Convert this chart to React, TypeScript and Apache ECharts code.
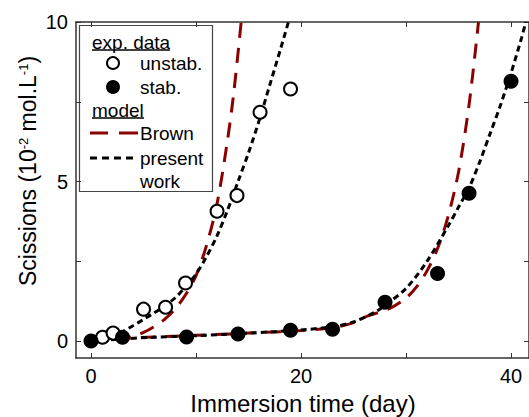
import React, { useEffect, useRef } from "react";
import * as echarts from "echarts";

const unstabX = [1.1, 2.1, 5.0, 7.1, 9.0, 12.0, 13.9, 16.1, 19.0];
const unstabY = [0.12, 0.25, 1.0, 1.06, 1.82, 4.07, 4.56, 7.17, 7.9];
const stabX = [0, 3.0, 9.1, 14.0, 19.0, 23.0, 28.0, 33.0, 36.0, 40.0];
const stabY = [0, 0.12, 0.13, 0.22, 0.34, 0.37, 1.22, 2.12, 4.63, 8.14];

const brownUnstabX = [0, 2, 3, 4, 5, 6, 7, 8, 9, 10, 11, 12, 13, 13.6, 14.3];
const brownUnstabY = [0, 0.04, 0.08, 0.15, 0.27, 0.45, 0.68, 1.0, 1.45, 2.05, 3.0, 4.3, 6.3, 7.8, 10];
const presentUnstabX = [0, 1, 2, 3, 4, 5, 6, 7, 8, 9, 10, 11, 12, 13, 14, 15, 16, 17, 18, 18.8];
const presentUnstabY = [0, 0.07, 0.16, 0.3, 0.48, 0.68, 0.88, 1.1, 1.35, 1.7, 2.1, 2.65, 3.3, 4.1, 5.0, 5.9, 6.9, 8.0, 9.1, 10];
const brownStabX = [0, 3, 6, 10, 15, 20, 23, 25, 26.3, 28.5, 30, 31, 32, 33, 34, 35, 36, 36.9];
const brownStabY = [0, 0.08, 0.13, 0.18, 0.25, 0.33, 0.42, 0.58, 0.78, 1.03, 1.35, 1.7, 2.2, 2.9, 3.9, 5.3, 7.4, 10];
const presentStabX = [0, 3, 6, 10, 15, 20, 23, 25, 27, 28, 30, 32, 34, 35, 36, 37, 38, 39, 40, 41, 41.4];
const presentStabY = [0, 0.07, 0.12, 0.17, 0.25, 0.35, 0.45, 0.6, 0.9, 1.12, 1.65, 2.5, 3.6, 4.2, 4.8, 5.6, 6.5, 7.4, 8.4, 9.5, 10];

const xLabelValues = [0, 20, 40];
const xTickValues = [0, 10, 20, 30, 40];
const yLabelValues = [0, 5, 10];
const yTickValues = [0, 2.5, 5, 7.5, 10];

const zip = (xs: number[], ys: number[]) => xs.map((x, i) => [x, ys[i]]);

const FONT = "Liberation Sans, Arial, sans-serif";
const AXIS_COLOR = "#333";
const BROWN = "#8b0000";

export default function App() {
  const ref = useRef<HTMLDivElement>(null);
  useEffect(() => {
    if (!ref.current) return;
    const chart = echarts.init(ref.current, undefined, { renderer: "svg" });
    const xCommon = {
      type: "value" as const,
      min: -1.43,
      max: 41.71,
      axisLine: { show: true, onZero: false, lineStyle: { color: AXIS_COLOR, width: 1.5 } },
      splitLine: { show: false },
    };
    const yCommon = {
      type: "value" as const,
      min: -0.53,
      max: 10,
      axisLine: { show: true, onZero: false, lineStyle: { color: AXIS_COLOR, width: 1.5 } },
      splitLine: { show: false },
    };
    const tick = (vals: number[]) => ({
      show: true,
      inside: true,
      length: 5,
      customValues: vals,
      lineStyle: { color: AXIS_COLOR, width: 1 },
    });
    const legendText = (text: string, x: number, y: number) => ({
      type: "text",
      x,
      y,
      style: { text, font: `19px ${FONT}`, fill: "#000", verticalAlign: "middle" },
    });
    chart.setOption({
      animation: false,
      grid: { left: 76, top: 22, right: 0, bottom: 59, containLabel: false },
      xAxis: [
        {
          ...xCommon,
          position: "bottom",
          axisTick: tick(xTickValues),
          axisLabel: {
            customValues: xLabelValues,
            color: "#000",
            fontSize: 20,
            fontFamily: FONT,
            margin: 8,
          },
        },
        {
          ...xCommon,
          position: "top",
          axisTick: tick(xTickValues),
          axisLabel: { show: false },
        },
      ],
      yAxis: [
        {
          ...yCommon,
          position: "left",
          axisTick: tick(yTickValues),
          axisLabel: {
            customValues: yLabelValues,
            color: "#000",
            fontSize: 20,
            fontFamily: FONT,
            margin: 8,
          },
        },
        {
          ...yCommon,
          position: "right",
          axisTick: tick(yTickValues),
          axisLabel: { show: false },
        },
      ],
      series: [
        {
          type: "line",
          data: zip(brownUnstabX, brownUnstabY),
          smooth: 0.3,
          showSymbol: false,
          lineStyle: { color: BROWN, width: 3, type: [15, 10] },
          z: 2,
        },
        {
          type: "line",
          data: zip(brownStabX, brownStabY),
          smooth: 0.3,
          showSymbol: false,
          lineStyle: { color: BROWN, width: 3, type: [15, 10] },
          z: 2,
        },
        {
          type: "line",
          data: zip(presentUnstabX, presentUnstabY),
          smooth: 0.3,
          showSymbol: false,
          lineStyle: { color: "#000", width: 3, type: [6, 4] },
          z: 3,
        },
        {
          type: "line",
          data: zip(presentStabX, presentStabY),
          smooth: 0.3,
          showSymbol: false,
          lineStyle: { color: "#000", width: 3, type: [6, 4] },
          z: 3,
        },
        {
          type: "scatter",
          data: zip(unstabX, unstabY),
          symbol: "circle",
          symbolSize: 13,
          itemStyle: { color: "#fff", borderColor: "#000", borderWidth: 2, opacity: 1 },
          z: 4,
        },
        {
          type: "scatter",
          data: zip(stabX, stabY),
          symbol: "circle",
          symbolSize: 15,
          itemStyle: { color: "#000", borderColor: "#000", borderWidth: 0, opacity: 1 },
          z: 5,
        },
      ],
      graphic: [
        {
          type: "text",
          x: 28,
          y: 171,
          rotation: Math.PI / 2,
          style: {
            text: "Scissions (10{sup|-2} mol.L{sup|-1})",
            font: `23px ${FONT}`,
            fill: "#000",
            align: "center",
            verticalAlign: "middle",
            rich: {
              sup: { fontSize: 13, fontFamily: FONT, verticalAlign: "top", padding: [0, 0, 10, 0] },
            },
          },
        },
        {
          type: "text",
          x: 303,
          y: 403,
          style: {
            text: "Immersion time (day)",
            font: `24px ${FONT}`,
            fill: "#000",
            align: "center",
            verticalAlign: "middle",
          },
        },
        {
          type: "group",
          x: 0,
          y: 0,
          z: 100,
          children: [
            {
              type: "rect",
              shape: { x: 79.5, y: 25.5, width: 133, height: 166 },
              style: { fill: "#fff", stroke: "#444", lineWidth: 1.2 },
            },
            legendText("exp. data", 92, 42),
            { type: "line", shape: { x1: 92, y1: 50, x2: 170, y2: 50 }, style: { stroke: "#000", lineWidth: 1.5 } },
            { type: "circle", shape: { cx: 113, cy: 63, r: 6 }, style: { fill: "#fff", stroke: "#000", lineWidth: 2 } },
            legendText("unstab.", 140, 63),
            { type: "circle", shape: { cx: 113, cy: 87, r: 7 }, style: { fill: "#000" } },
            legendText("stab.", 140, 87),
            legendText("model", 92, 110),
            { type: "line", shape: { x1: 92, y1: 118, x2: 144, y2: 118 }, style: { stroke: "#000", lineWidth: 1.5 } },
            { type: "line", shape: { x1: 90, y1: 133, x2: 108, y2: 133 }, style: { stroke: BROWN, lineWidth: 3 } },
            { type: "line", shape: { x1: 119, y1: 133, x2: 138, y2: 133 }, style: { stroke: BROWN, lineWidth: 3 } },
            legendText("Brown", 140, 133),
            { type: "line", shape: { x1: 90, y1: 158, x2: 137, y2: 158 }, style: { stroke: "#000", lineWidth: 3, lineDash: [7, 5] } },
            legendText("present", 140, 158),
            legendText("work", 140, 181),
          ],
        },
      ],
    });
    return () => chart.dispose();
  }, []);
  return <div ref={ref} style={{ width: 529, height: 417, position: "absolute", left: 0, top: 0, background: "#fff" }} />;
}
